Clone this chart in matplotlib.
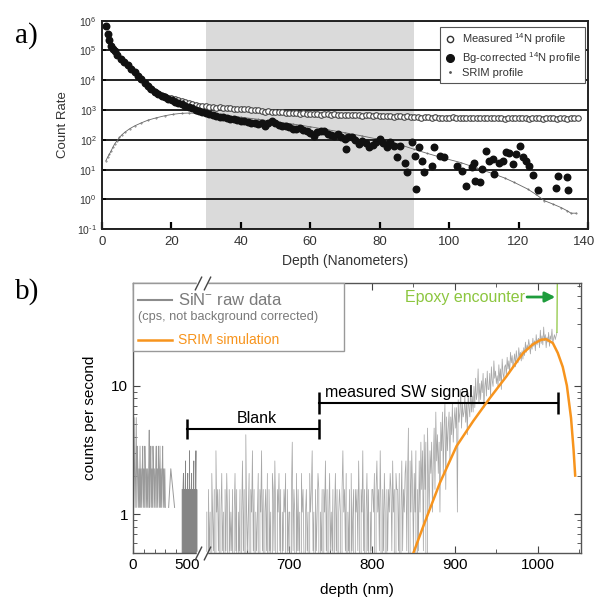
import numpy as np
import matplotlib.pyplot as plt
from matplotlib import ticker, transforms
from matplotlib.lines import Line2D
from matplotlib.patches import Rectangle

plt.rcParams['font.family'] = ['Liberation Sans', 'DejaVu Sans']
plt.rcParams['mathtext.default'] = 'regular'

# ---------------- panel a: 14N depth profile (log10 of count rate) ----------------
bg_depth = [1.2, 1.7, 2.2, 2.7, 3.2, 3.7, 4.5, 5.6, 6.5, 7.5,
            8.5, 9.5, 10.5, 11.4, 12.4, 13.4, 14.3, 15.3, 16.3, 17.3,
            18.2, 19.2, 20.2, 21.2, 22.1, 23, 24, 25, 26, 27,
            28, 29, 30, 31, 32, 33, 34, 35, 36, 37,
            38, 39, 40, 41, 42, 43, 44, 45, 46, 47,
            48, 49, 50, 51, 52, 53, 54, 55, 56, 57,
            58, 59, 60, 61, 62, 63, 64, 65, 66, 67,
            68, 69, 70, 70.4, 71, 72, 73, 74, 75, 76,
            77, 78, 79, 80, 81, 82, 83, 84, 85, 86,
            87.4, 87.9, 89.3, 90.3, 90.6, 91.3, 92.3, 92.8, 95.2, 95.6,
            97.5, 98.5, 102.3, 103.8, 105, 106.7, 107.2, 107.6, 108.9, 109.6,
            110.6, 111.5, 112.5, 113, 114.4, 115.4, 116.3, 117.3, 118.3, 119.2,
            120.5, 121.2, 122.1, 123.1, 124.1, 125.5, 130.9, 131.3, 133.8, 134.1]
bg_log = [5.81, 5.55, 5.35, 5.16, 5.06, 4.99, 4.86, 4.71, 4.60, 4.50,
          4.38, 4.27, 4.15, 4.04, 3.92, 3.81, 3.70, 3.62, 3.55, 3.48,
          3.43, 3.38, 3.33, 3.28, 3.24, 3.20, 3.15, 3.10, 3.06, 3.01,
          2.98, 2.94, 2.91, 2.87, 2.83, 2.81, 2.78, 2.76, 2.73, 2.71,
          2.69, 2.67, 2.64, 2.62, 2.60, 2.56, 2.58, 2.53, 2.55, 2.48,
          2.57, 2.62, 2.55, 2.50, 2.47, 2.45, 2.42, 2.38, 2.36, 2.40,
          2.33, 2.31, 2.22, 2.14, 2.26, 2.29, 2.31, 2.20, 2.17, 2.14,
          2.18, 2.10, 2.03, 1.69, 2.10, 2.08, 1.98, 1.86, 1.95, 1.90,
          1.75, 1.84, 1.92, 2.03, 1.88, 1.75, 1.92, 1.80, 1.41, 1.80,
          1.24, 0.91, 1.92, 1.47, 0.35, 1.75, 1.30, 0.91, 1.13, 1.75,
          1.47, 1.41, 1.13, 0.96, 0.46, 1.08, 1.24, 0.63, 0.57, 1.02,
          1.63, 1.30, 1.36, 0.85, 1.24, 1.30, 1.58, 1.55, 1.19, 1.52,
          1.80, 1.41, 1.30, 1.13, 0.83, 0.33, 0.38, 0.80, 0.74, 0.33]

meas_depth = np.arange(14, 138)
meas_log = [3.72, 3.64, 3.57, 3.51, 3.46, 3.42, 3.39, 3.36, 3.33, 3.31,
            3.27, 3.24, 3.20, 3.17, 3.14, 3.13, 3.12,
            3.10, 3.11, 3.08, 3.09, 3.07, 3.06, 3.06, 3.04, 3.05, 3.03,
            3.02, 3.03, 3.01, 2.99, 3.00, 2.96, 2.95, 2.96, 2.94, 2.93,
            2.94, 2.92, 2.90, 2.91, 2.89, 2.90, 2.88, 2.89, 2.87, 2.88,
            2.86, 2.87, 2.85, 2.87, 2.86, 2.84, 2.86, 2.85, 2.83, 2.85,
            2.84, 2.82, 2.84, 2.83, 2.81, 2.83, 2.82, 2.80, 2.82, 2.81,
            2.79, 2.81, 2.80, 2.78, 2.80, 2.79, 2.77, 2.79, 2.78, 2.76,
            2.77, 2.75, 2.77, 2.76, 2.74, 2.76, 2.75, 2.73, 2.75, 2.74,
            2.76, 2.73, 2.75, 2.74, 2.72, 2.74, 2.73, 2.75, 2.72, 2.74,
            2.73, 2.75, 2.72, 2.74, 2.73, 2.71, 2.74, 2.72, 2.73, 2.75,
            2.72, 2.73, 2.71, 2.74, 2.72, 2.73, 2.71, 2.74, 2.72, 2.73,
            2.71, 2.72, 2.74, 2.71, 2.72, 2.73, 2.72]

srim_a_depth = [1.2, 1.7, 2.2, 2.7, 3.2, 3.7, 4.4, 5.1, 5.8, 6.6,
                8, 9.5, 11.4, 13.3, 15.7, 18.2, 20.6, 23, 25, 27,
                30, 35, 40, 45, 50, 55, 60, 65, 70, 75,
                80, 85, 90, 93.6, 98, 103.3, 108, 113, 116, 118.8,
                122.6, 125, 127.4, 130, 132.2, 134, 135.1, 136.6]
srim_a_log = [1.30, 1.42, 1.52, 1.63, 1.75, 1.86, 1.97, 2.08, 2.17, 2.25,
              2.37, 2.47, 2.57, 2.66, 2.74, 2.81, 2.86, 2.89, 2.90, 2.89,
              2.87, 2.82, 2.76, 2.69, 2.61, 2.53, 2.44, 2.34, 2.24, 2.13,
              2.01, 1.87, 1.68, 1.55, 1.40, 1.24, 1.05, 0.85, 0.72, 0.57,
              0.35, 0.17, -0.04, -0.16, -0.27, -0.38, -0.46, -0.46]
shade_range = (30, 90)

# ---------------- panel b: SiN- raw data (counts per bin) ----------------
# 5 nm bins from 0 nm
left_counts = [2, 1, 5, 2, 1, 2, 5, 1, 3, 2, 1, 2, 1, 3, 1, 2, 1, 2, 3, 1,
               2, 1, 3, 2, 1, 2, 1, 2, 1, 2, 4, 1, 2, 3, 1, 2, 1, 3, 2, 1,
               2, 1, 2, 3, 1, 2, 1, 3, 2, 1, 3, 1, 2, 1, 2, 3, 1, 2, 1, 2, 1]
left_depth = np.arange(len(left_counts)) * 5
iso_depth = [330, 350, 385]
iso_counts = [1, 2, 1]
cps_per_count_left = 1.13

# 4 nm bins from 455 nm
dark_counts = [3, 0, 3, 4, 0, 3, 0, 3, 5, 0, 3, 0, 3, 4, 0, 3, 0, 6,
               0, 3, 0, 3, 4, 0, 3, 0, 3, 5, 0, 3, 0, 3, 6, 0, 3, 0]
dark_depth = 455 + np.arange(len(dark_counts)) * 4

# 1 nm bins from 601 nm; low counts written one digit per bin (601-860 nm)
right_low_digits = ('2031204213' '0623130241' '2031420312' '1302413021'
                    '3025130821' '2403261302' '1240326130' '2314031204'
                    '3152032413' '0213240312' '2037132041' '3120423102'
                    '3120423612' '0312430213' '0325130241' '2130241302'
                    '3203623140' '2130412303' '2315203261' '3024130213'
                    '3240352316' '2031420313' '2431523043' '3140251324'
                    '5149052631' '4260315273')
right_high_counts = [6, 1, 8, 3, 7, 0, 9, 4, 2, 6,
                     4, 7, 2, 5, 9, 3, 12, 5, 8, 4,
                     7, 2, 10, 6, 12, 4, 9, 14, 3, 11,
                     6, 9, 12, 5, 11, 8, 14, 7, 10, 13,
                     9, 13, 2, 15, 10, 12, 18, 9, 14, 11,
                     12, 16, 10, 14, 8, 17, 13, 11, 19, 12,
                     16, 12, 19, 13, 22, 15, 17, 26, 14, 20,
                     15, 21, 17, 24, 13, 19, 22, 16, 25, 18,
                     18, 24, 16, 27, 21, 19, 30, 22, 25, 20,
                     23, 19, 28, 21, 26, 18, 31, 24, 22, 27,
                     28, 23, 32, 26, 30, 24, 35, 29, 33, 27,
                     30, 34, 27, 36, 31, 29, 38, 32, 35, 30,
                     36, 31, 38, 33, 42, 35, 40, 37, 44, 39,
                     34, 41, 37, 45, 39, 43, 36, 48, 40, 44,
                     45, 38, 52, 41, 47, 40, 55, 43, 48, 38,
                     46, 42, 50, 39, 47, 44, 53, 41, 45, 48,
                     44, 47, 50]
right_counts = [int(c) for c in right_low_digits] + right_high_counts
right_depth = np.arange(601, 601 + len(right_counts))
cps_per_count = 0.52

epoxy_depth = [1023, 1024]
epoxy_cps = [26, 200]

srim_b_depth = [850, 862, 882, 902, 922, 942, 962, 982, 994, 1004,
                1010, 1018, 1024, 1030, 1035, 1040, 1043, 1045]
srim_b_cps = [0.5, 0.81, 1.76, 3.39, 5.3, 8.0, 11.8, 17.9, 21.0, 22.8,
              23.0, 21.5, 18.0, 14.0, 10.0, 5.6, 3.2, 2.0]

blank_range = (500, 736)
blank_level = 4.64
signal_range = (736, 1024)
signal_level = 7.4


# broken depth axis: 0-600 nm compressed, 600-1050 nm expanded
def fwd(x):
    x = np.asarray(x, dtype=float)
    return np.where(x <= 600, 0.108 * x, 73 + 0.83 * (x - 600))


def inv(y):
    y = np.asarray(y, dtype=float)
    return np.where(y <= 64.8, y / 0.108,
                    np.where(y < 73, 600.0, 600 + (y - 73) / 0.83))


fig = plt.figure(figsize=(5.97, 6.07), dpi=100)

# ---------------- panel a ----------------
ax1 = fig.add_axes([0.1704, 0.6223, 0.8146, 0.3437])
ax1.set_axisbelow(True)
ax1.axvspan(*shade_range, color='#dadada', lw=0, zorder=0)
ax1.plot(srim_a_depth, 10.0 ** np.array(srim_a_log), color='#666666', lw=0.6,
         marker='.', ms=0.8, zorder=2)
ax1.plot(meas_depth, 10.0 ** np.array(meas_log), ls='none', marker='o', mfc='white',
         mec='#444444', mew=0.8, ms=4.0, zorder=3)
ax1.plot(bg_depth, 10.0 ** np.array(bg_log), ls='none', marker='o', color='#111111',
         ms=4.7, zorder=4)

ax1.set_yscale('log')
ax1.set_ylim(0.1, 1e6)
ax1.set_xlim(0, 140)
ax1.set_yticks([10.0 ** k for k in range(-1, 7)],
               labels=[f'$10^{{{k}}}$'.replace('-', '\u2010') for k in range(-1, 7)])
ax1.yaxis.set_minor_locator(ticker.NullLocator())
ax1.set_xticks(range(0, 141, 20))
ax1.grid(axis='y', color='#111111', lw=1.3)
ax1.tick_params(axis='x', direction='in', length=5, width=1.6, labelsize=9.5,
                labelcolor='#333333', pad=5)
ax1.tick_params(axis='y', direction='in', length=3, width=1.2, labelsize=7.5,
                labelcolor='#333333')
for s in ax1.spines.values():
    s.set_color('#222222')
    s.set_linewidth(1.4)
ax1.set_xlabel('Depth (Nanometers)', fontsize=10, color='#333333', labelpad=4)
ax1.set_ylabel('Count Rate', fontsize=9.5, color='#333333', labelpad=6)
# keep the last tick label inside the figure
last = ax1.get_xticklabels()[-1]
last.set_transform(last.get_transform() +
                   transforms.ScaledTranslation(-4 / 100, 0, fig.dpi_scale_trans))

handles = [Line2D([], [], ls='none', marker='o', mfc='white', mec='#333333', ms=4.5),
           Line2D([], [], ls='none', marker='o', color='#111111', ms=5.5),
           Line2D([], [], ls='none', marker='.', color='#555555', ms=2)]
labels = ['Measured $^{14}$N profile', 'Bg-corrected $^{14}$N profile', 'SRIM profile']
leg = ax1.legend(handles, labels, loc='upper right', bbox_to_anchor=(0.994, 0.971),
                 borderaxespad=0, fontsize=8, fancybox=False, edgecolor='#555555',
                 framealpha=1, handlelength=1, handletextpad=0.6, borderpad=0.4,
                 labelspacing=0.25)
leg.get_frame().set_linewidth(0.8)
for t in leg.get_texts():
    t.set_color('#333333')

# ---------------- panel b ----------------
ax2 = fig.add_axes([0.2228, 0.0890, 0.7504, 0.4448])
ax2.set_xscale('function', functions=(fwd, inv))
ax2.set_yscale('log')

ax2.plot(left_depth, np.array(left_counts) * cps_per_count_left, color='#9a9a9a', lw=0.6)
ax2.plot(iso_depth, np.array(iso_counts) * cps_per_count_left, color='#9a9a9a', lw=0.7)
ax2.plot(dark_depth, np.array(dark_counts) * cps_per_count, color='#858585', lw=0.6)
ax2.plot(right_depth, np.array(right_counts) * cps_per_count, color='#a8a8a8', lw=0.55)
ax2.plot(epoxy_depth, epoxy_cps, color='#8dc63f', lw=0.9)
ax2.plot(srim_b_depth, srim_b_cps, color='#f7941d', lw=1.8, zorder=4)

ax2.set_xlim(0, 1052)
ax2.set_ylim(0.5, 63)

# Blank / measured SW signal ranges
ax2.plot(blank_range, [blank_level] * 2, color='k', lw=1.5, marker='|', ms=14, mew=1.8)
ax2.text(661, 5.6, 'Blank', ha='center', va='center', fontsize=11.5)
ax2.plot(signal_range, [signal_level] * 2, color='k', lw=1.5, marker='|', ms=16, mew=1.8)
ax2.text(743, 8.8, 'measured SW signal', ha='left', va='center', fontsize=11.5)

# epoxy encounter
ax2.annotate('', xy=(1021, 49), xytext=(987, 49),
             arrowprops=dict(arrowstyle='-|>,head_length=0.6,head_width=0.3',
                             color='#1e9c3c', lw=2, shrinkA=0, shrinkB=0))
ax2.text(984, 49, 'Epoxy encounter', ha='right', va='center', color='#8cc63f',
         fontsize=11.5)

ax2.set_xticks([0, 500, 700, 800, 900, 1000])
ax2.set_xticks([100, 200, 300, 400, 650, 750, 850, 950, 1050], minor=True)
ax2.set_yticks([1, 10], labels=['1', '10'])
ax2.yaxis.set_minor_locator(ticker.LogLocator(subs=np.arange(2, 10)))
ax2.yaxis.set_minor_formatter(ticker.NullFormatter())
ax2.tick_params(which='both', direction='in', top=True, right=True, labelsize=11,
                color='#444444')
ax2.tick_params(which='major', length=5)
ax2.tick_params(which='minor', length=3)
for s in ax2.spines.values():
    s.set_color('#555555')
    s.set_linewidth(1.0)
ax2.set_xlabel('depth (nm)', fontsize=11, labelpad=8)
ax2.set_ylabel('counts per second', fontsize=11, labelpad=10)

# axis break marks
bt = transforms.blended_transform_factory(ax2.transData, ax2.transAxes)
for yy in (0, 1):
    ax2.plot([599.5, 600.5], [yy, yy], transform=bt, color='white', lw=2.5,
             clip_on=False, zorder=7)
    ax2.plot([599, 601], [yy, yy], transform=bt, ls='none',
             marker=[(-1, -2), (1, 2)], ms=10, mew=1, mfc='none', mec='#444444',
             clip_on=False, zorder=8)

# legend box for panel b
ax2.add_patch(Rectangle((0, 0.748), 0.471, 0.252, transform=ax2.transAxes,
                        facecolor='white', edgecolor='#999999', lw=1, zorder=5,
                        clip_on=False))
ax2.plot([0.011, 0.087], [0.937, 0.937], transform=ax2.transAxes, color='#8c8c8c',
         lw=1.5, zorder=6)
ax2.text(0.100, 0.937, 'SiN$^{-}$ raw data', transform=ax2.transAxes, color='#7a7a7a',
         fontsize=12, va='center', zorder=6)
ax2.text(0.011, 0.874, '(cps, not background corrected)', transform=ax2.transAxes,
         color='#7a7a7a', fontsize=9.2, va='center', zorder=6)
ax2.plot([0.011, 0.087], [0.789, 0.789], transform=ax2.transAxes, color='#f7941d',
         lw=1.8, zorder=6)
ax2.text(0.100, 0.789, 'SRIM simulation', transform=ax2.transAxes, color='#f7941d',
         fontsize=10, va='center', zorder=6)

# panel labels
fig.text(15 / 597, 1 - 36 / 607, 'a)', family='Liberation Serif', fontsize=21, va='center')
fig.text(15 / 597, 1 - 292 / 607, 'b)', family='Liberation Serif', fontsize=21, va='center')

fig.savefig('out.png', dpi=100)
